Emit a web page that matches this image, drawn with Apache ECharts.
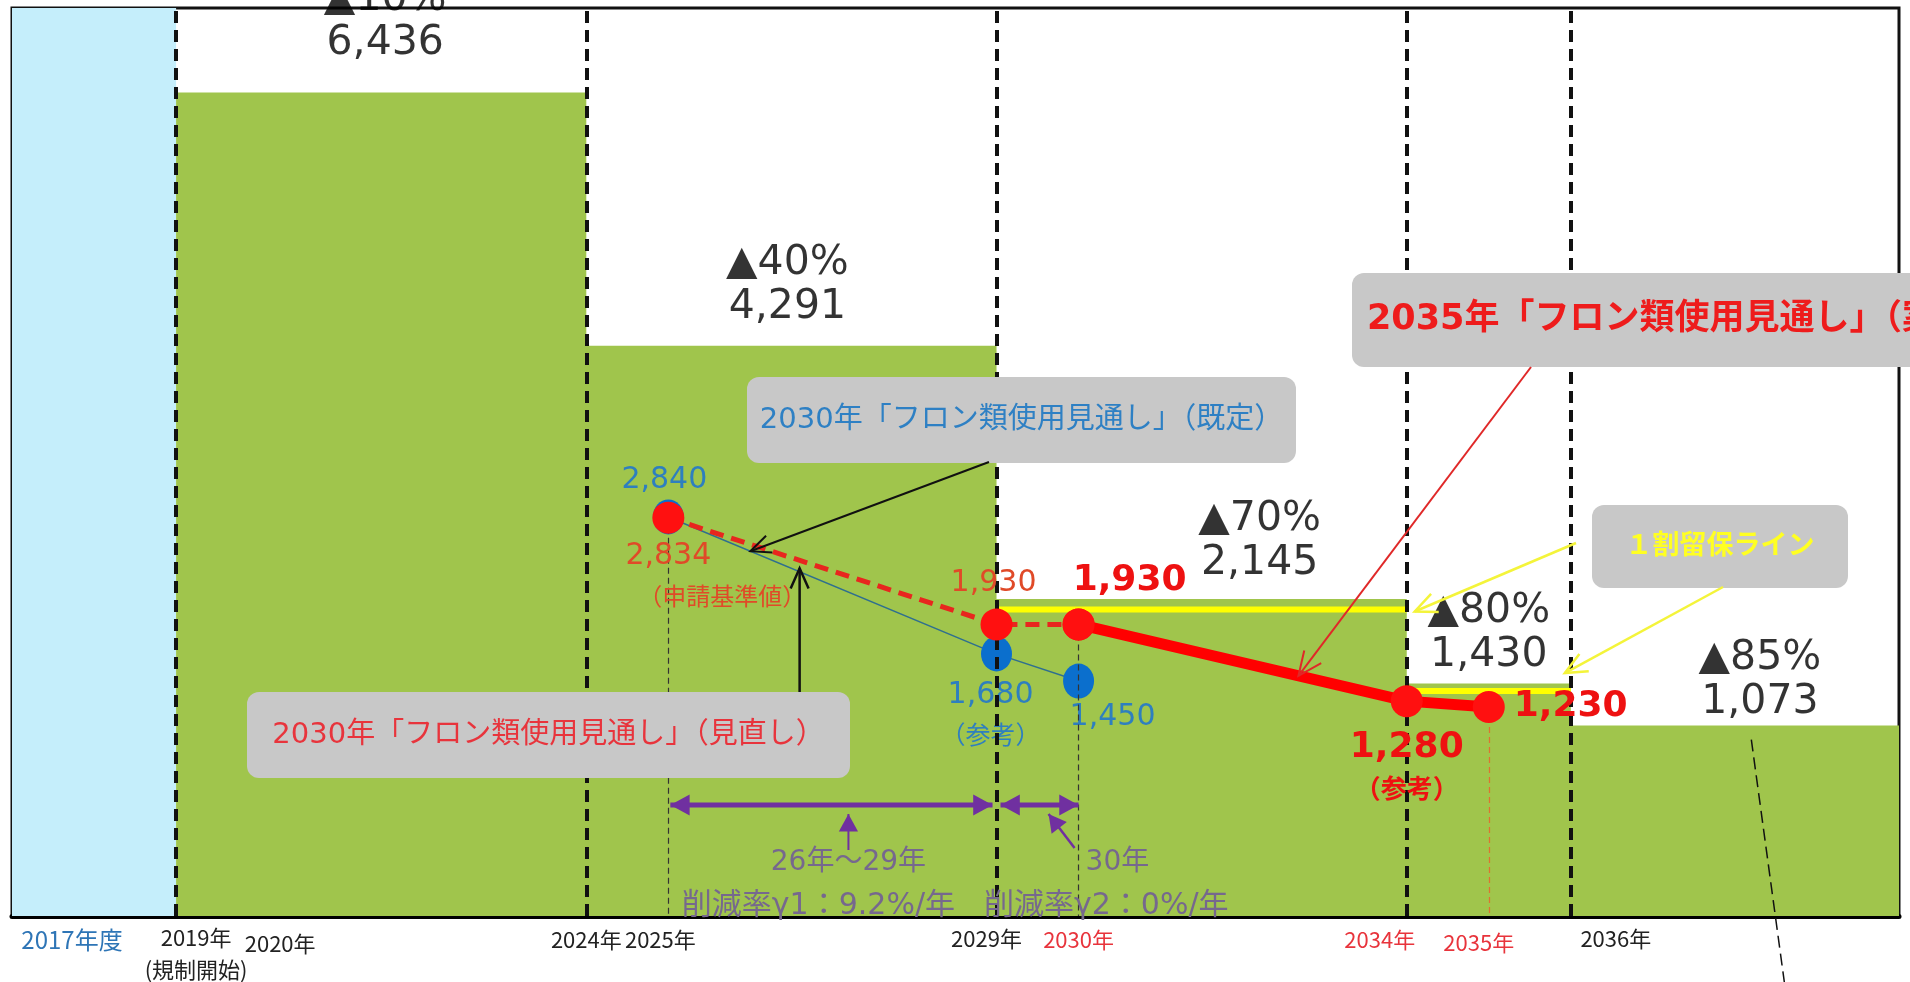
<!DOCTYPE html>
<html>
<head>
<meta charset="utf-8">
<script src="https://cdn.jsdelivr.net/npm/echarts@6/dist/echarts.min.js"></script>
<style>
  html, body { margin: 0; padding: 0; background: #fff; }
  #chart { width: 1910px; height: 982px; }
</style>
</head>
<body>
<div id="chart"></div>
<script>
// ---- data ----
// 2017年度 baseline band
const baseYears = [2017, 2019];
const baseValue = 7151;
// HFC consumption cap: first year of each period and its cap
const capYears = [2019, 2024, 2029, 2034, 2036];
const capEndYear = 2040;
const capValues = [6436, 4291, 2145, 1430, 1073];
const capCuts = ['▲10%', '▲40%', '▲70%', '▲80%', '▲85%'];
// 2030年「フロン類使用見通し」（既定）
const planYears = [2025, 2029, 2030];
const planValues = [2840, 1680, 1450];
// 2030年「フロン類使用見通し」（見直し）
const reviseYears = [2025, 2029, 2030];
const reviseValues = [2834, 1930, 1930];
// 2035年「フロン類使用見通し」
const outlookYears = [2030, 2034, 2035];
const outlookValues = [1930, 1280, 1230];
// 1割留保ライン
const reserveSpans = [[2029, 2034], [2034, 2036]];
const reserveValues = [2056, 1365];
// x axis labels
const tickYears = [2017, 2019, 2020, 2024, 2025, 2029, 2030, 2034, 2035, 2036];
const tickTexts = ['2017年度', '2019年\n(規制開始)', '2020年', '2024年', '2025年', '2029年', '2030年', '2034年', '2035年', '2036年'];

// ---- layout / style ----
const X_MIN = 2017, X_MAX = 2040, Y_MIN = -540, Y_MAX = baseValue;
const NUM_FONT = '"DejaVu Sans", "Noto Sans CJK JP", sans-serif';
const JP_FONT = '"Noto Sans CJK JP", "DejaVu Sans", sans-serif';
const GREEN = '#a0c54c', SKY = '#c5eefb';
const RED = '#ff1010', RED_TXT = '#e04a28', RED_BOLD = '#ee1111';
const BLUE_DOT = '#0b6fcd', BLUE_TXT = '#2e7fbf';
const PURPLE = '#7030a0', PURPLE_TXT = '#76688e';
const fmt = v => v.toLocaleString('en-US');

const tickColors = ['#2e75b6', '#222', '#222', '#222', '#222', '#222', '#e8343c', '#e8343c', '#e8343c', '#222'];
const tickSizes = [24, 22, 22, 22, 22, 22, 22, 22, 22, 22];
const tickShift = [60, 20, 22, 0, -8, -10, 0, -27, -10, 45];
const tickDrop = [4, 0, 12, 4, 4, 2, 4, 4, 10, 2];

const capLabelDist = [27, 16, 13, 6, 1];
const capLabelShift = [4, -4, 58, 0, 25];

const GRID = { left: 12, right: 11, top: 8, bottom: 66 };

// tick labels are split over two identical grids so that neighbouring labels
// never get hidden by the min/max-label overlap rule
function tickAxis(gridIndex, idx, showLine) {
  const rich = {};
  idx.forEach(i => {
    const s = tickShift[i];
    const pad = [tickDrop[i], s < 0 ? -2 * s : 0, 0, s > 0 ? 2 * s : 0];
    rich['t' + i] = { color: tickColors[i], fontSize: tickSizes[i], fontFamily: JP_FONT, lineHeight: 32, padding: pad };
    rich['t' + i + 'b'] = { color: tickColors[i], fontSize: tickSizes[i], fontFamily: JP_FONT, lineHeight: 32, padding: [0, pad[1], 0, pad[3]] };
  });
  return {
    type: 'value', gridIndex, min: X_MIN, max: X_MAX,
    splitLine: { show: false }, axisTick: { show: false },
    axisLine: { show: showLine, onZero: false, lineStyle: { color: '#000', width: 5 } },
    axisLabel: {
      customValues: idx.map(i => tickYears[i]), showMinLabel: true, showMaxLabel: true, hideOverlap: false,
      margin: 6, fontFamily: JP_FONT, fontSize: 22,
      formatter: v => {
        const i = tickYears.indexOf(v);
        return tickTexts[i].split('\n').map((s, j) => `{t${i}${j ? 'b' : ''}|${s}}`).join('\n');
      },
      rich
    }
  };
}
const evenTicks = tickYears.map((y, i) => i).filter(i => i % 2 === 0);
const oddTicks = tickYears.map((y, i) => i).filter(i => i % 2 === 1);

const chart = echarts.init(document.getElementById('chart'), null, { renderer: 'canvas' });

const capData = capYears.map((y, i) => [y, capValues[i]]).concat([[capEndYear, capValues[capValues.length - 1]]]);
const capLabelData = capValues.map((v, i) => {
  const x0 = capYears[i];
  const x1 = i + 1 < capYears.length ? capYears[i + 1] : capEndYear;
  return { value: [(x0 + x1) / 2, v], label: { distance: capLabelDist[i], offset: [capLabelShift[i], 0] } };
});

const dropStyle = { color: '#333', width: 1.2, type: [6, 4] };

const series = [
  {
    name: 'base', type: 'line', z: 1, silent: true, symbol: 'none',
    data: baseYears.map(y => [y, baseValue]),
    lineStyle: { width: 0, opacity: 0 },
    areaStyle: { color: SKY, opacity: 1, origin: 'start' }
  },
  {
    name: 'cap', type: 'line', step: 'end', z: 2, silent: true, symbol: 'none',
    data: capData,
    lineStyle: { width: 0, opacity: 0 },
    areaStyle: { color: GREEN, opacity: 1, origin: 'start' },
    markLine: {
      silent: true, symbol: ['none', 'none'], label: { show: false },
      lineStyle: { color: '#111', width: 4, type: [12, 7] },
      data: capYears.map(y => ({ xAxis: y }))
    }
  }
];

reserveSpans.forEach((span, i) => {
  series.push({
    name: 'reserve' + i, type: 'line', z: 3, silent: true, symbol: 'none',
    data: span.map(x => [x, reserveValues[i]]),
    lineStyle: { color: '#ffff00', width: 6 }
  });
});

// 既定 outlook (blue)
const planLabels = [
  { position: 'top', distance: 4, offset: [-4, 0], formatter: p => fmt(p.value[1]) },
  { position: 'bottom', distance: 3, offset: [-6, 0], formatter: p => `{n|${fmt(p.value[1])}}\n{s|（参考）}` },
  { position: 'bottom', distance: 4, offset: [34, 0], formatter: p => fmt(p.value[1]) }
];
series.push({
  name: 'plan', type: 'line', z: 4, silent: true,
  data: planYears.map((y, i) => ({ value: [y, planValues[i]], label: Object.assign({ show: true }, planLabels[i]) })),
  lineStyle: { color: '#2f6f8f', width: 1.5 },
  symbol: 'circle', symbolSize: [31, 35],
  itemStyle: { color: BLUE_DOT },
  label: {
    color: BLUE_TXT, fontSize: 30, fontFamily: NUM_FONT,
    rich: { n: { color: BLUE_TXT, fontSize: 30, fontFamily: NUM_FONT, lineHeight: 42 },
            s: { color: BLUE_TXT, fontSize: 25, fontFamily: JP_FONT, lineHeight: 36 } }
  }
});

// 見直し outlook (red dashed)
const reviseLabels = [
  { show: true, position: 'bottom', distance: 1, formatter: p => `{n|${fmt(p.value[1])}}\n{s|（申請基準値）}` },
  { show: true, position: 'top', distance: 10, offset: [-3, 0], formatter: p => fmt(p.value[1]) },
  { show: false }
];
series.push({
  name: 'revise', type: 'line', z: 5, silent: true,
  data: reviseYears.map((y, i) => ({ value: [y, reviseValues[i]], label: reviseLabels[i] })),
  lineStyle: { color: '#e8261e', width: 5, type: [14, 8] },
  symbol: 'circle', symbolSize: 32,
  itemStyle: { color: RED },
  label: {
    color: RED_TXT, fontSize: 30, fontFamily: NUM_FONT,
    rich: { n: { color: RED_TXT, fontSize: 30, fontFamily: NUM_FONT, lineHeight: 44 },
            s: { color: RED_TXT, fontSize: 24, fontFamily: JP_FONT, lineHeight: 34, padding: [0, 0, 0, 108] } }
  },
  markLine: {
    silent: true, symbol: ['none', 'none'], label: { show: false }, lineStyle: dropStyle,
    data: [[{ coord: [reviseYears[0], reviseValues[0]] }, { coord: [reviseYears[0], Y_MIN] }]]
  }
});

// 2035 outlook (bold red)
const outlookLabels = [
  { show: true, position: 'top', distance: 10, offset: [51, 0], formatter: p => fmt(p.value[1]) },
  { show: true, position: 'bottom', distance: 8, formatter: p => `{n|${fmt(p.value[1])}}\n{s|（参考）}` },
  { show: true, position: 'right', distance: 9, formatter: p => fmt(p.value[1]) }
];
series.push({
  name: 'outlook', type: 'line', z: 6, silent: true,
  data: outlookYears.map((y, i) => ({ value: [y, outlookValues[i]], label: outlookLabels[i] })),
  lineStyle: { color: '#ff0000', width: 11 },
  symbol: 'circle', symbolSize: 32,
  itemStyle: { color: RED },
  label: {
    color: RED_BOLD, fontSize: 36, fontWeight: 'bold', fontFamily: NUM_FONT,
    rich: { n: { color: RED_BOLD, fontSize: 36, fontWeight: 'bold', fontFamily: NUM_FONT, lineHeight: 46 },
            s: { color: RED_BOLD, fontSize: 26, fontWeight: 'bold', fontFamily: JP_FONT, lineHeight: 34 } }
  },
  markLine: {
    silent: true, symbol: ['none', 'none'], label: { show: false }, lineStyle: dropStyle,
    data: [
      [{ coord: [outlookYears[0], outlookValues[0]] }, { coord: [outlookYears[0], Y_MIN] }],
      [{ coord: [outlookYears[2], outlookValues[2]], lineStyle: { color: '#e07030', width: 1.2, type: [6, 4] } },
       { coord: [outlookYears[2], Y_MIN] }]
    ]
  }
});

// cap labels (▲% and amount) above each step
series.push({
  name: 'capLabels', type: 'scatter', z: 8, silent: true,
  symbolSize: 1, itemStyle: { color: 'rgba(0,0,0,0)' },
  data: capLabelData,
  label: {
    show: true, position: 'top',
    formatter: p => `${capCuts[p.dataIndex]}\n${fmt(p.value[1])}`,
    fontSize: 41, lineHeight: 44, color: '#000', fontFamily: NUM_FONT
  }
});

const option = {
  animation: false,
  backgroundColor: '#fff',
  grid: [
    Object.assign({ show: true, borderColor: '#111', borderWidth: 3, outerBoundsMode: 'none', containLabel: false }, GRID),
    Object.assign({ show: false, outerBoundsMode: 'none', containLabel: false }, GRID)
  ],
  xAxis: [tickAxis(0, evenTicks, true), tickAxis(1, oddTicks, false)],
  yAxis: [
    { type: 'value', gridIndex: 0, min: Y_MIN, max: Y_MAX, show: false, splitLine: { show: false } },
    { type: 'value', gridIndex: 1, min: Y_MIN, max: Y_MAX, show: false, splitLine: { show: false } }
  ],
  series
};
chart.setOption(option);

// ---- annotations: callout boxes, arrows and notes ----
const px = (x, y) => chart.convertToPixel({ gridIndex: 0 }, [x, y]);
const lerp = (a, b, t) => a + (b - a) * t;

function arrow(x1, y1, x2, y2, color, width, head, filled, both) {
  const els = [];
  const heads = both ? [[x1, y1, x2, y2], [x2, y2, x1, y1]] : [[x1, y1, x2, y2]];
  els.push({ type: 'line', z: 20, shape: { x1, y1, x2, y2 }, style: { stroke: color, lineWidth: width } });
  heads.forEach(([ax, ay, bx, by]) => {
    const ang = Math.atan2(by - ay, bx - ax);
    const spread = filled ? 0.5 : 0.42;
    const h1 = [bx + head * Math.cos(ang + Math.PI - spread), by + head * Math.sin(ang + Math.PI - spread)];
    const h2 = [bx + head * Math.cos(ang + Math.PI + spread), by + head * Math.sin(ang + Math.PI + spread)];
    if (filled) {
      els.push({ type: 'polygon', z: 21, shape: { points: [[bx, by], h1, h2] }, style: { fill: color } });
    } else {
      els.push({ type: 'polyline', z: 21, shape: { points: [h1, [bx, by], h2] }, style: { stroke: color, lineWidth: width, fill: null } });
    }
  });
  return els;
}
function box(x, y, w, h, text, color, size, weight, align) {
  return [
    { type: 'rect', z: 15, shape: { x, y, width: w, height: h, r: 12 }, style: { fill: '#c8c8c8' } },
    { type: 'text', z: 16, x: align === 'left' ? x + 15 : x + w / 2, y: y + h / 2,
      style: { text, fill: color, fontSize: size, fontWeight: weight || 'normal', fontFamily: NUM_FONT,
               align: align || 'center', verticalAlign: 'middle' } }
  ];
}
function note(x, y, text, size, align) {
  return { type: 'text', z: 16, x, y, style: { text, fill: PURPLE_TXT, fontSize: size, fontFamily: NUM_FONT, align: align || 'center', verticalAlign: 'middle' } };
}

const g = [];
// 既定 callout and arrow to the blue line
g.push(...box(747, 377, 549, 86, '2030年「フロン類使用見通し」（既定）', '#2e80c4', 29));
const tipPlan = px(lerp(planYears[0], planYears[1], 0.25), lerp(planValues[0], planValues[1], 0.25));
g.push(...arrow(989, 462, tipPlan[0], tipPlan[1], '#111', 2, 22, false));
// 見直し callout and arrow to the red dashed line
g.push(...box(247, 692, 603, 86, '2030年「フロン類使用見通し」（見直し）', '#e8343c', 29));
const tipRev = px(lerp(reviseYears[0], reviseYears[1], 0.4), lerp(reviseValues[0], reviseValues[1], 0.4));
g.push(...arrow(tipRev[0], 692, tipRev[0], tipRev[1] + 8, '#111', 2.5, 22, false));
// 2035 callout and arrow to the bold red line
g.push(...box(1352, 273, 640, 94, '2035年「フロン類使用見通し」（案）', '#ee1c1c', 35, 'bold', 'left'));
const tipOut = px(lerp(outlookYears[0], outlookYears[1], 0.67), lerp(outlookValues[0], outlookValues[1], 0.67));
g.push(...arrow(1531, 367, tipOut[0], tipOut[1], '#e02828', 2, 26, false));
// 1割留保ライン callout with two arrows
g.push(...box(1592, 505, 256, 83, '１割留保ライン', '#ffff22', 27, 'bold'));
const r1 = px(reserveSpans[0][1], reserveValues[0]);
const r2 = px(reserveSpans[1][1], reserveValues[1]);
g.push(...arrow(1576, 543, r1[0] + 8, r1[1] + 2, '#f4f43a', 2.5, 24, false));
g.push(...arrow(1723, 587, r2[0] - 6, r2[1] - 18, '#f4f43a', 2.5, 24, false));

// reduction-rate spans (purple)
const xa = px(reviseYears[0], 0)[0], xb = px(reviseYears[1], 0)[0], xc = px(reviseYears[2], 0)[0];
const yArrow = 805;
g.push(...arrow(xa + 2, yArrow, xb - 4, yArrow, PURPLE, 5, 22, true, true));
g.push(...arrow(xb + 4, yArrow, xc, yArrow, PURPLE, 5, 22, true, true));
const xm = (xa + xb) / 2 + 16;
g.push(...arrow(xm, 850, xm, 814, PURPLE, 2, 20, true));
g.push(note(xm, 863, '26年～29年', 28));
g.push(note(xm - 30, 906, '削減率γ1：9.2%/年', 30));
g.push(...arrow(xc - 4, 848, xc - 30, 814, PURPLE, 2.5, 20, true));
g.push(note(xc + 7, 863, '30年', 28, 'left'));
g.push(note(984, 906, '削減率γ2：0%/年', 30, 'left'));

// leader from the 2036 cap label down past the axis
const lead = px(2038.2, capValues[4]);
g.push({ type: 'line', z: 20, shape: { x1: lead[0], y1: lead[1] + 14, x2: lead[0] + 33, y2: 982 },
         style: { stroke: '#111', lineWidth: 1.5, lineDash: [12, 6] } });

chart.setOption({ graphic: { elements: g } });
</script>
</body>
</html>
